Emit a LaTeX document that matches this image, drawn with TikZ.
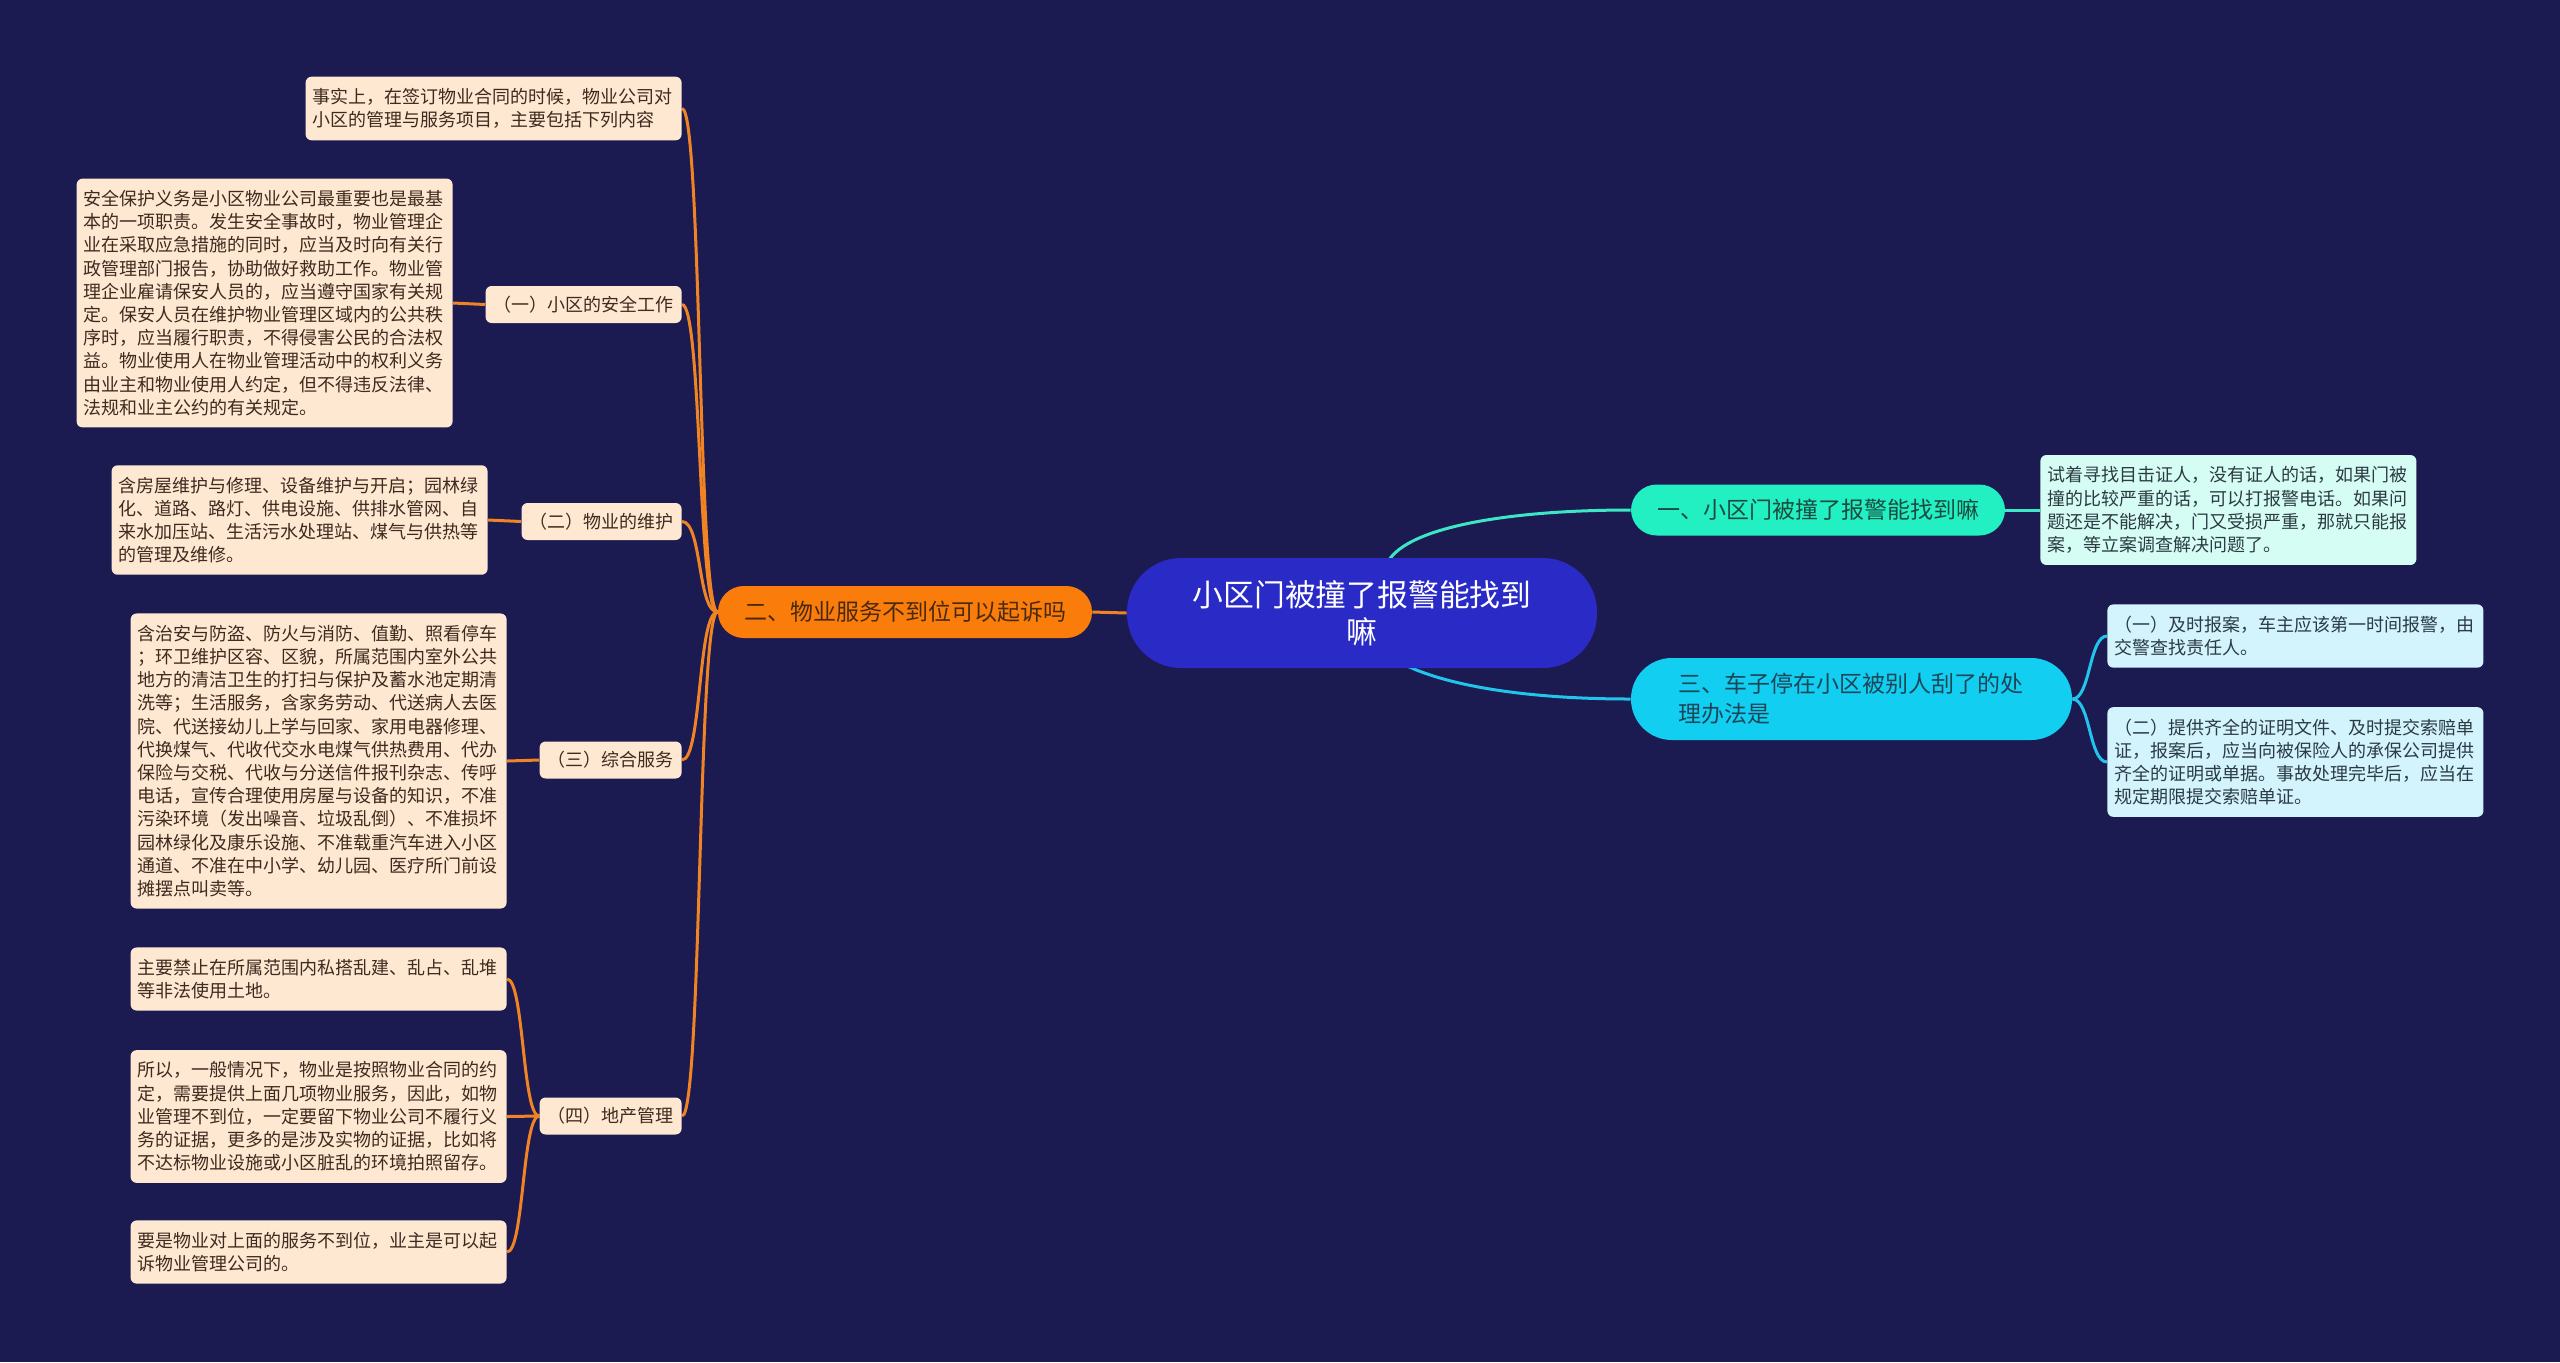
\documentclass[tikz,border=0pt]{standalone}
\usepackage{fontspec}
\setmainfont{Noto Sans CJK SC}
\usetikzlibrary{calc}
\pgfdeclarelayer{bglayer}
\pgfdeclarelayer{edgelayer}
\pgfsetlayers{bglayer,edgelayer,main}
\definecolor{bg}{HTML}{1B1A51}
\definecolor{centerfill}{HTML}{2A2BC6}
\definecolor{orangefill}{HTML}{FA7D0C}
\definecolor{orangetxt}{HTML}{4A2A0C}
\definecolor{greenfill}{HTML}{22F0C2}
\definecolor{greentxt}{HTML}{1C4A40}
\definecolor{cyanfill}{HTML}{12CFF2}
\definecolor{cyantxt}{HTML}{1C4658}
\definecolor{peach}{HTML}{FFE8D2}
\definecolor{peachtxt}{HTML}{3D2B1F}
\definecolor{mint}{HTML}{D6FDF3}
\definecolor{ice}{HTML}{D3F3FD}
\definecolor{righttxt}{HTML}{2B3B44}
\definecolor{lineorange}{HTML}{F08424}
\definecolor{lineteal}{HTML}{3CE6C6}
\definecolor{linecyan}{HTML}{22C4EC}
\begin{document}
\begin{tikzpicture}[x=0.5pt,y=-0.5pt,
  leafL/.style={fill=peach, text=peachtxt, rounded corners=3pt, align=left,
    text width=181pt, inner xsep=3.5pt, inner ysep=5.8pt,
    font=\fontsize{9}{11.6}\selectfont},
  leafG/.style={leafL, fill=mint, text=righttxt},
  leafC/.style={leafL, fill=ice, text=righttxt},
  subL/.style={fill=peach, text=peachtxt, rounded corners=3pt, inner xsep=4pt,
    inner ysep=2pt, minimum height=18.5pt, font=\fontsize{9}{11.6}\selectfont},
  lineO/.style={draw=lineorange, line width=1.5pt},
  lineT/.style={draw=lineteal, line width=1.5pt},
  lineC/.style={draw=linecyan, line width=1.5pt}
]
\useasboundingbox (0,0) rectangle (2560,1362);
\begin{pgfonlayer}{bglayer}
\fill[bg] (0,0) rectangle (2560,1362);
\end{pgfonlayer}

% ---------- nodes ----------
\node[fill=centerfill, text=white, rounded corners=27pt, minimum width=235pt,
  minimum height=55pt, align=center, font=\fontsize{15.4}{18.5}\selectfont]
  (c) at (1362,613) {小区门被撞了报警能找到\\嘛};

\node[fill=orangefill, text=orangetxt, rounded corners=12.9pt, minimum width=187pt,
  minimum height=26pt, font=\fontsize{11.5}{15}\selectfont]
  (o) at (905,612) {二、物业服务不到位可以起诉吗};

\node[fill=greenfill, text=greentxt, rounded corners=12.9pt, minimum width=187pt,
  minimum height=25.5pt, font=\fontsize{11.5}{15}\selectfont]
  (g) at (1818,510) {一、小区门被撞了报警能找到嘛};

\node[fill=cyanfill, text=cyantxt, rounded corners=20.4pt, text width=173pt,
  inner xsep=23.75pt, minimum height=41pt, align=left, font=\fontsize{11.5}{15}\selectfont]
  (t) at (1851.5,699) {三、车子停在小区被别人刮了的处\\理办法是};

% left side
\node[leafL, anchor=east] (s0) at (682,108.5) {事实上，在签订物业合同的时候，物业公司对\\小区的管理与服务项目，主要包括下列内容};
\node[subL, anchor=east] (s1) at (682,304.5) {（一）小区的安全工作};
\node[subL, anchor=east] (s2) at (682,521.5) {（二）物业的维护};
\node[subL, anchor=east] (s3) at (682,760) {（三）综合服务};
\node[subL, anchor=east] (s4) at (682,1116) {（四）地产管理};

\node[leafL, anchor=east] (a1) at (453,303) {安全保护义务是小区物业公司最重要也是最基\\本的一项职责。发生安全事故时，物业管理企\\业在采取应急措施的同时，应当及时向有关行\\政管理部门报告，协助做好救助工作。物业管\\理企业雇请保安人员的，应当遵守国家有关规\\定。保安人员在维护物业管理区域内的公共秩\\序时，应当履行职责，不得侵害公民的合法权\\益。物业使用人在物业管理活动中的权利义务\\由业主和物业使用人约定，但不得违反法律、\\法规和业主公约的有关规定。};

\node[leafL, anchor=east] (a2) at (488,520) {含房屋维护与修理、设备维护与开启；园林绿\\化、道路、路灯、供电设施、供排水管网、自\\来水加压站、生活污水处理站、煤气与供热等\\的管理及维修。};

\node[leafL, anchor=east] (a3) at (507,761) {含治安与防盗、防火与消防、值勤、照看停车\\；环卫维护区容、区貌，所属范围内室外公共\\地方的清洁卫生的打扫与保护及蓄水池定期清\\洗等；生活服务，含家务劳动、代送病人去医\\院、代送接幼儿上学与回家、家用电器修理、\\代换煤气、代收代交水电煤气供热费用、代办\\保险与交税、代收与分送信件报刊杂志、传呼\\电话，宣传合理使用房屋与设备的知识，不准\\污染环境（发出噪音、垃圾乱倒）、不准损坏\\园林绿化及康乐设施、不准载重汽车进入小区\\通道、不准在中小学、幼儿园、医疗所门前设\\摊摆点叫卖等。};

\node[leafL, anchor=east] (a4) at (507,979) {主要禁止在所属范围内私搭乱建、乱占、乱堆\\等非法使用土地。};
\node[leafL, anchor=east] (a5) at (507,1116.5) {所以，一般情况下，物业是按照物业合同的约\\定，需要提供上面几项物业服务，因此，如物\\业管理不到位，一定要留下物业公司不履行义\\务的证据，更多的是涉及实物的证据，比如将\\不达标物业设施或小区脏乱的环境拍照留存。};
\node[leafL, anchor=east] (a6) at (507,1252) {要是物业对上面的服务不到位，业主是可以起\\诉物业管理公司的。};

% right side
\node[leafG, anchor=west] (g1) at (2040,510) {试着寻找目击证人，没有证人的话，如果门被\\撞的比较严重的话，可以打报警电话。如果问\\题还是不能解决，门又受损严重，那就只能报\\案，等立案调查解决问题了。};
\node[leafC, anchor=west] (t1) at (2107,636) {（一）及时报案，车主应该第一时间报警，由\\交警查找责任人。};
\node[leafC, anchor=west] (t2) at (2107,762) {（二）提供齐全的证明文件、及时提交索赔单\\证，报案后，应当向被保险人的承保公司提供\\齐全的证明或单据。事故处理完毕后，应当在\\规定期限提交索赔单证。};

% ---------- connectors (under the nodes) ----------
\begin{pgfonlayer}{edgelayer}
\draw[lineO] (c.west) -- (o.east);
\foreach \n in {s0,s1,s2,s3,s4}
  \draw[lineO] (o.west) .. controls +(-20,0) and +(20,0) .. (\n.east);
\draw[lineO] (s1.west) -- (a1.east);
\draw[lineO] (s2.west) -- (a2.east);
\draw[lineO] (s3.west) -- (a3.east);
\foreach \n in {a4,a5,a6}
  \draw[lineO] (s4.west) .. controls +(-17,0) and +(17,0) .. (\n.east);
\draw[lineT] ([xshift=13pt,yshift=-2pt]c.north) .. controls +(20,-35) and +(-120,0) .. (g.west);
\draw[lineT] (g.east) -- (g1.west);
\draw[lineC] ([xshift=21pt,yshift=2pt]c.south) .. controls +(40,20) and +(-110,0) .. (t.west);
\foreach \n in {t1,t2}
  \draw[lineC] (t.east) .. controls +(18,0) and +(-18,0) .. (\n.west);
\end{pgfonlayer}
\end{tikzpicture}
\end{document}
